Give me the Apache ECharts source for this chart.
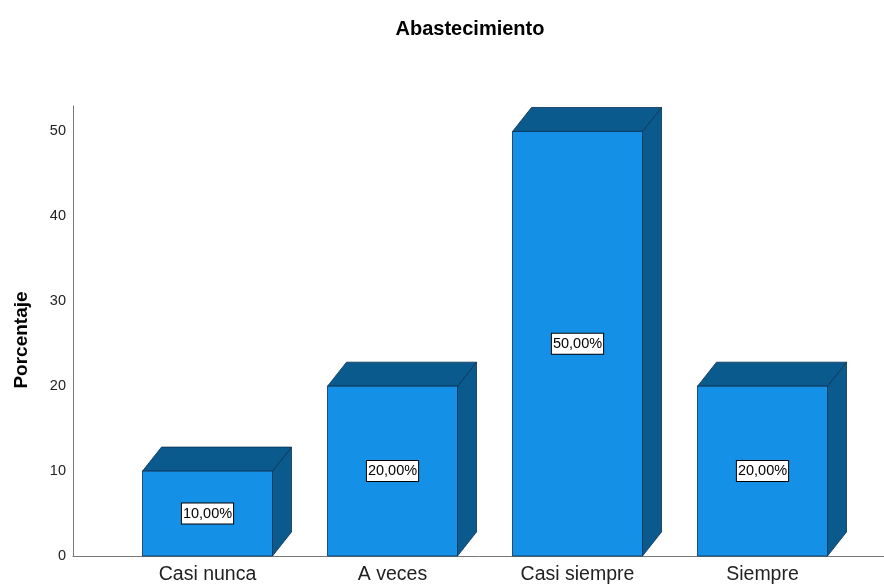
<!DOCTYPE html>
<html><head><meta charset="utf-8">
<script src="https://cdn.jsdelivr.net/npm/echarts@6/dist/echarts.min.js"></script>
<style>html,body{margin:0;padding:0;background:#fff}#c{width:884px;height:588px}</style>
</head><body><div id="c"></div>
<script>
var categories = ['Casi nunca', 'A veces', 'Casi siempre', 'Siempre'];
var values = [10, 20, 50, 20];
var yTicks = [0, 10, 20, 30, 40, 50];
var titleText = 'Abastecimiento';
var yName = 'Porcentaje';

var FONT = '"Liberation Sans", Arial, sans-serif';
var chart = echarts.init(document.getElementById('c'));
var DX = 19, DY = 24;
function renderItem(params, api) {
  var i = api.value(0), v = api.value(1);
  var p0 = api.coord([i, 0]), p1 = api.coord([i, v]);
  var bw = api.size([1, 0])[0] * 130 / 185;
  var x = p0[0] - bw / 2, top = p1[1], bot = p0[1];
  var stroke = '#0a3050';
  return {
    type: 'group',
    children: [
      { type: 'polygon', shape: { points: [[x + bw, top], [x + bw + DX, top - DY], [x + bw + DX, bot - DY], [x + bw, bot]] },
        style: { fill: '#0b5a8e', stroke: stroke, lineWidth: 0.8 } },
      { type: 'polygon', shape: { points: [[x, top], [x + DX, top - DY], [x + bw + DX, top - DY], [x + bw, top]] },
        style: { fill: '#0b5a8e', stroke: stroke, lineWidth: 0.8 } },
      { type: 'rect', shape: { x: x, y: top, width: bw, height: bot - top },
        style: { fill: '#1490e6', stroke: stroke, lineWidth: 0.8 } },
      { type: 'text', x: p0[0], y: (top + bot) / 2,
        style: { text: v.toFixed(2).replace('.', ',') + '%', align: 'center', verticalAlign: 'middle',
          font: '14.5px ' + FONT, fill: '#000', backgroundColor: '#fff', borderColor: '#000', borderWidth: 1,
          padding: [3, 1, 2, 1] } }
    ]
  };
}
chart.setOption({
  animation: false,
  title: { text: titleText, left: 465, top: 14, textAlign: 'center',
    textStyle: { fontFamily: FONT, fontSize: 20, fontWeight: 'bold', color: '#000' } },
  graphic: [{
    type: 'text', x: 22, y: 340, rotation: Math.PI / 2,
    style: { text: yName, align: 'center', verticalAlign: 'middle', font: 'bold 19px ' + FONT, fill: '#000' }
  }],
  grid: [
    { left: 73, right: 0, top: 106, bottom: 32 },
    { left: 115, width: 740, top: 106, bottom: 32 }
  ],
  xAxis: [
    { gridIndex: 0, type: 'value', min: 0, max: 1, axisLine: { show: true, lineStyle: { color: '#777', width: 1 } },
      axisTick: { show: false }, axisLabel: { show: false }, splitLine: { show: false } },
    { gridIndex: 1, type: 'category', data: categories, axisLine: { show: false }, axisTick: { show: false },
      axisLabel: { margin: 9, fontFamily: FONT, fontSize: 19.5, color: '#222' } }
  ],
  yAxis: [
    { gridIndex: 0, type: 'value', min: 0, max: 53, interval: 10,
      axisLine: { show: true, lineStyle: { color: '#777', width: 1 } }, axisTick: { show: false },
      axisLabel: { margin: 7, fontFamily: FONT, fontSize: 14.5, color: '#222', showMaxLabel: false,
        formatter: function (v) { return yTicks.indexOf(v) >= 0 ? String(v) : ''; } },
      splitLine: { show: false } },
    { gridIndex: 1, type: 'value', min: 0, max: 53, show: false, splitLine: { show: false } }
  ],
  series: [{
    type: 'custom', xAxisIndex: 1, yAxisIndex: 1, renderItem: renderItem,
    data: values.map(function (v, i) { return [i, v]; })
  }]
});
</script></body></html>
